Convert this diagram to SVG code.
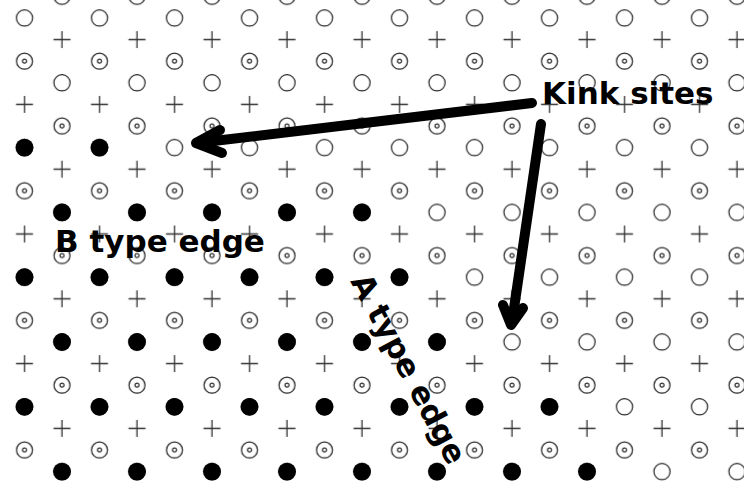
<svg xmlns="http://www.w3.org/2000/svg" xmlns:xlink="http://www.w3.org/1999/xlink" width="744" height="484" viewBox="0 0 744 484">
<style>
.o{fill:none;stroke:#222;stroke-width:1.2}
.p{stroke:#333;stroke-width:1.3}
.f{fill:#000}
.arr{fill:none;stroke:#000;stroke-width:10;stroke-linecap:round;stroke-linejoin:round}
.lbl{font-family:"DejaVu Sans","Liberation Sans",sans-serif;font-weight:bold;font-size:31px;fill:#000}
</style>
<defs>
<g id="open"><circle r="8.1" class="o"/></g>
<g id="dot"><circle r="8" class="o"/><circle r="2" class="o"/></g>
<g id="plus"><path d="M-8.5,0H8.5M0,-8.5V8.5" class="p"/></g>
<g id="fill"><circle r="8.9" class="f"/></g>
<pattern id="lat" patternUnits="userSpaceOnUse" x="5.75" y="7.2" width="75" height="129.6">
<use href="#open" x="18.75" y="10.8"/>
<use href="#plus" x="56.25" y="32.4"/>
<use href="#dot" x="18.75" y="54"/>
<use href="#open" x="56.25" y="75.6"/>
<use href="#plus" x="18.75" y="97.2"/>
<use href="#dot" x="56.25" y="118.8"/>
</pattern>
</defs>
<rect width="744" height="484" fill="#fff"/>
<g id="lattice">
<rect width="744" height="484" fill="url(#lat)"/>
</g>
<g id="filled">
<use href="#fill" x="24.5" y="147.6"/><use href="#fill" x="99.5" y="147.6"/>
<use href="#fill" x="62" y="212.4"/><use href="#fill" x="137" y="212.4"/><use href="#fill" x="212" y="212.4"/><use href="#fill" x="287" y="212.4"/><use href="#fill" x="362" y="212.4"/>
<use href="#fill" x="24.5" y="277.2"/><use href="#fill" x="99.5" y="277.2"/><use href="#fill" x="174.5" y="277.2"/><use href="#fill" x="249.5" y="277.2"/><use href="#fill" x="324.5" y="277.2"/><use href="#fill" x="399.5" y="277.2"/>
<use href="#fill" x="62" y="342"/><use href="#fill" x="137" y="342"/><use href="#fill" x="212" y="342"/><use href="#fill" x="287" y="342"/><use href="#fill" x="362" y="342"/><use href="#fill" x="437" y="342"/>
<use href="#fill" x="24.5" y="406.8"/><use href="#fill" x="99.5" y="406.8"/><use href="#fill" x="174.5" y="406.8"/><use href="#fill" x="249.5" y="406.8"/><use href="#fill" x="324.5" y="406.8"/><use href="#fill" x="399.5" y="406.8"/><use href="#fill" x="474.5" y="406.8"/><use href="#fill" x="549.5" y="406.8"/>
<use href="#fill" x="62" y="471.6"/><use href="#fill" x="137" y="471.6"/><use href="#fill" x="212" y="471.6"/><use href="#fill" x="287" y="471.6"/><use href="#fill" x="362" y="471.6"/><use href="#fill" x="437" y="471.6"/><use href="#fill" x="512" y="471.6"/><use href="#fill" x="587" y="471.6"/>
</g>
<g id="connectors">
<path class="arr" d="M532,103 L197,143"/>
<path class="arr" d="M220,130 L196,143 L222,153"/>
<path class="arr" d="M541,124 L512,322"/>
<path class="arr" d="M503,305 L511,325 L523,308"/>
</g>
<g id="labels">
<text class="lbl" x="542" y="104">Kink sites</text>
<text class="lbl" x="55" y="252">B type edge</text>
<text class="lbl" transform="translate(350,281) rotate(62)">A type edge</text>
</g>
</svg>
